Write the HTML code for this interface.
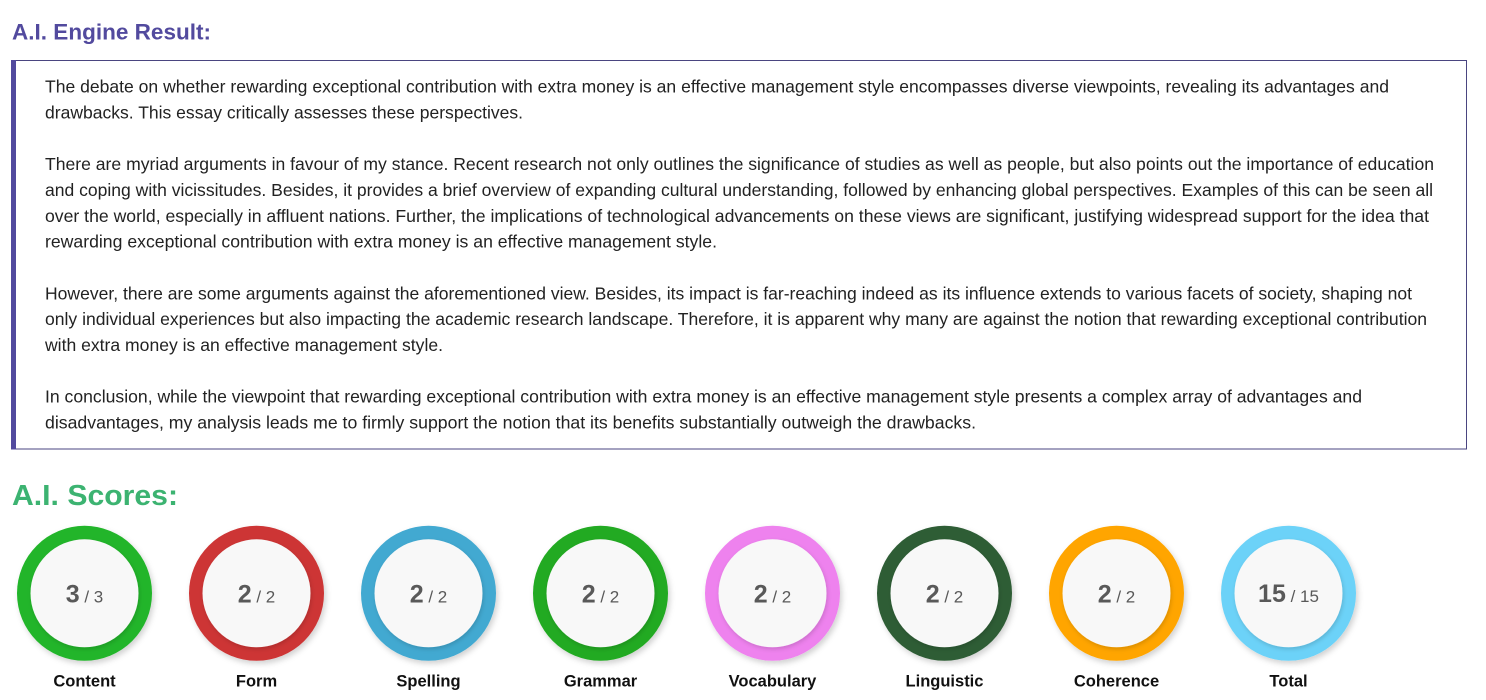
<!DOCTYPE html>
<html>
<head>
<meta charset="utf-8">
<style>
html,body{margin:0;padding:0;background:#fff;width:1486px;height:700px;overflow:hidden;}
svg{display:block;}
</style>
</head>
<body>
<svg width="1486" height="700" viewBox="0 0 1486 700" xmlns="http://www.w3.org/2000/svg" font-family="'Liberation Sans', Arial, sans-serif">
  <defs>
    <filter id="sh" x="-20%" y="-20%" width="140%" height="140%">
      <feDropShadow dx="2" dy="3" stdDeviation="3" flood-color="#000" flood-opacity="0.18"/>
    </filter>
    <filter id="sh2" x="-20%" y="-20%" width="140%" height="140%">
      <feDropShadow dx="1" dy="2" stdDeviation="2" flood-color="#000" flood-opacity="0.15"/>
    </filter>
  </defs>

  <!-- Title -->
  <text x="12" y="39.5" font-size="22" font-weight="bold" fill="#524a9e" textLength="199" lengthAdjust="spacingAndGlyphs">A.I. Engine Result:</text>

  <!-- Box -->
  <rect x="11.5" y="60.5" width="1455" height="388.5" fill="#fff" stroke="#4a4580" stroke-width="1"/>
  <rect x="11" y="60" width="5" height="389.5" fill="#524a9e"/>

  <g font-size="17.5" fill="#222">
    <text x="45" y="92.5" textLength="1344" lengthAdjust="spacingAndGlyphs">The debate on whether rewarding exceptional contribution with extra money is an effective management style encompasses diverse viewpoints, revealing its advantages and</text>
    <text x="45" y="118.35" textLength="478" lengthAdjust="spacingAndGlyphs">drawbacks. This essay critically assesses these perspectives.</text>

    <text x="45" y="170.05" textLength="1389" lengthAdjust="spacingAndGlyphs">There are myriad arguments in favour of my stance. Recent research not only outlines the significance of studies as well as people, but also points out the importance of education</text>
    <text x="45" y="195.9" textLength="1388" lengthAdjust="spacingAndGlyphs">and coping with vicissitudes. Besides, it provides a brief overview of expanding cultural understanding, followed by enhancing global perspectives. Examples of this can be seen all</text>
    <text x="45" y="221.75" textLength="1384" lengthAdjust="spacingAndGlyphs">over the world, especially in affluent nations. Further, the implications of technological advancements on these views are significant, justifying widespread support for the idea that</text>
    <text x="45" y="247.6" textLength="672" lengthAdjust="spacingAndGlyphs">rewarding exceptional contribution with extra money is an effective management style.</text>

    <text x="45" y="299.3" textLength="1367" lengthAdjust="spacingAndGlyphs">However, there are some arguments against the aforementioned view. Besides, its impact is far-reaching indeed as its influence extends to various facets of society, shaping not</text>
    <text x="45" y="325.15" textLength="1382" lengthAdjust="spacingAndGlyphs">only individual experiences but also impacting the academic research landscape. Therefore, it is apparent why many are against the notion that rewarding exceptional contribution</text>
    <text x="45" y="351" textLength="398" lengthAdjust="spacingAndGlyphs">with extra money is an effective management style.</text>

    <text x="45" y="402.7" textLength="1317" lengthAdjust="spacingAndGlyphs">In conclusion, while the viewpoint that rewarding exceptional contribution with extra money is an effective management style presents a complex array of advantages and</text>
    <text x="45" y="428.55" textLength="931" lengthAdjust="spacingAndGlyphs">disadvantages, my analysis leads me to firmly support the notion that its benefits substantially outweigh the drawbacks.</text>
  </g>

  <!-- Scores title -->
  <text x="12" y="505" font-size="29" font-weight="bold" fill="#3cb371" textLength="166" lengthAdjust="spacingAndGlyphs">A.I. Scores:</text>

  <!-- Circles -->
  <g>
    <circle cx="84.5" cy="593.3" r="67.5" fill="#23b52c" filter="url(#sh)"/>
    <circle cx="84.5" cy="593.3" r="54" fill="#f8f8f8" filter="url(#sh2)"/>
    <circle cx="256.5" cy="593.3" r="67.5" fill="#cd3535" filter="url(#sh)"/>
    <circle cx="256.5" cy="593.3" r="54" fill="#f8f8f8" filter="url(#sh2)"/>
    <circle cx="428.5" cy="593.3" r="67.5" fill="#42a9d1" filter="url(#sh)"/>
    <circle cx="428.5" cy="593.3" r="54" fill="#f8f8f8" filter="url(#sh2)"/>
    <circle cx="600.5" cy="593.3" r="67.5" fill="#22aa22" filter="url(#sh)"/>
    <circle cx="600.5" cy="593.3" r="54" fill="#f8f8f8" filter="url(#sh2)"/>
    <circle cx="772.5" cy="593.3" r="67.5" fill="#ee82ee" filter="url(#sh)"/>
    <circle cx="772.5" cy="593.3" r="54" fill="#f8f8f8" filter="url(#sh2)"/>
    <circle cx="944.5" cy="593.3" r="67.5" fill="#2e5d36" filter="url(#sh)"/>
    <circle cx="944.5" cy="593.3" r="54" fill="#f8f8f8" filter="url(#sh2)"/>
    <circle cx="1116.5" cy="593.3" r="67.5" fill="#ffa500" filter="url(#sh)"/>
    <circle cx="1116.5" cy="593.3" r="54" fill="#f8f8f8" filter="url(#sh2)"/>
    <circle cx="1288.5" cy="593.3" r="67.5" fill="#6cd2f8" filter="url(#sh)"/>
    <circle cx="1288.5" cy="593.3" r="54" fill="#f8f8f8" filter="url(#sh2)"/>
  </g>

  <!-- Score values -->
  <g fill="#595959" text-anchor="middle">
    <text x="84.5" y="602.7"><tspan font-size="25" font-weight="bold">3</tspan><tspan font-size="17"> / 3</tspan></text>
    <text x="256.5" y="602.7"><tspan font-size="25" font-weight="bold">2</tspan><tspan font-size="17"> / 2</tspan></text>
    <text x="428.5" y="602.7"><tspan font-size="25" font-weight="bold">2</tspan><tspan font-size="17"> / 2</tspan></text>
    <text x="600.5" y="602.7"><tspan font-size="25" font-weight="bold">2</tspan><tspan font-size="17"> / 2</tspan></text>
    <text x="772.5" y="602.7"><tspan font-size="25" font-weight="bold">2</tspan><tspan font-size="17"> / 2</tspan></text>
    <text x="944.5" y="602.7"><tspan font-size="25" font-weight="bold">2</tspan><tspan font-size="17"> / 2</tspan></text>
    <text x="1116.5" y="602.7"><tspan font-size="25" font-weight="bold">2</tspan><tspan font-size="17"> / 2</tspan></text>
    <text x="1288.5" y="602"><tspan font-size="25" font-weight="bold">15</tspan><tspan font-size="17"> / 15</tspan></text>
  </g>

  <!-- Labels -->
  <g fill="#111" text-anchor="middle" font-size="16.5" font-weight="bold">
    <text x="84.5" y="686.7">Content</text>
    <text x="256.5" y="686.7">Form</text>
    <text x="428.5" y="686.7">Spelling</text>
    <text x="600.5" y="686.7">Grammar</text>
    <text x="772.5" y="686.7">Vocabulary</text>
    <text x="944.5" y="686.7">Linguistic</text>
    <text x="1116.5" y="686.7">Coherence</text>
    <text x="1288.5" y="686.7">Total</text>
  </g>
</svg>
</body>
</html>
